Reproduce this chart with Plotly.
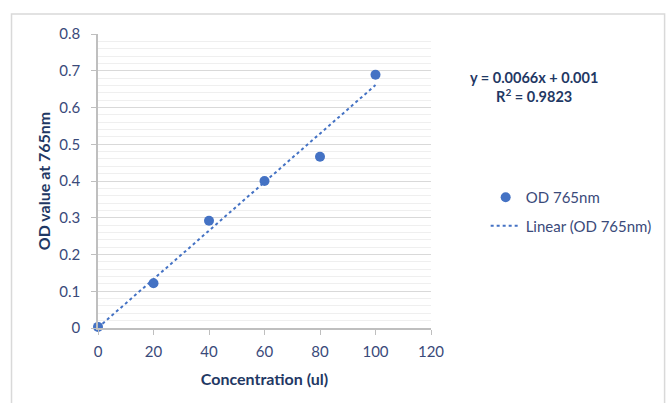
import plotly.graph_objects as go

conc = [0, 20, 40, 60, 80, 100]
od = [0.003, 0.122, 0.292, 0.400, 0.466, 0.689]
slope = 0.0066
intercept = 0.001
r2 = 0.9823
x_ticks = [0, 20, 40, 60, 80, 100, 120]
y_ticks = [0, 0.1, 0.2, 0.3, 0.4, 0.5, 0.6, 0.7, 0.8]

W, H = 669, 403
L, R, T, B = 98, 236, 34, 75
pw, ph = W - L - R, H - T - B

def px(x):
    return (x - L) / pw

def py(y):
    return (H - B - y) / ph

trend_x = [conc[0], conc[-1]]
trend_y = [slope * v + intercept for v in trend_x]

font = "Lato, 'Open Sans', sans-serif"
tick_col = "#3a4a7a"
title_col = "#1f3864"
blue = "#4472c4"

fig = go.Figure()
fig.add_trace(go.Scatter(x=conc, y=od, mode="markers", name="OD 765nm", legendgroup="a",
                         marker=dict(color=blue, size=10), cliponaxis=False))
fig.add_trace(go.Scatter(x=trend_x, y=trend_y, mode="lines", name="Linear (OD 765nm)", legendgroup="b",
                         line=dict(color=blue, width=2, dash="dot")))

fig.update_layout(
    width=W, height=H,
    margin=dict(l=L, r=R, t=T, b=B),
    paper_bgcolor="white", plot_bgcolor="white",
    font=dict(family=font, size=15, color=tick_col),
    showlegend=True,
    legend=dict(x=px(488), y=py(181), xanchor="left", yanchor="top",
                font=dict(size=15, color=tick_col), tracegroupgap=6,
                bgcolor="rgba(0,0,0,0)"),
    xaxis=dict(range=[0, 120], tickvals=x_ticks, showgrid=False, zeroline=False,
               showline=True, linecolor="#bfbfbf", linewidth=1.5,
               ticks="outside", ticklen=5, tickcolor="#bfbfbf", ticklabelstandoff=4,
               tickfont=dict(size=15, color=tick_col),
               title=dict(text="<b>Concentration (ul)</b>", font=dict(size=16, color=title_col), standoff=15)),
    yaxis=dict(range=[0, 0.8], tickvals=y_ticks, ticktext=[("%g" % v) for v in y_ticks],
               showgrid=True, gridcolor="#d9d9d9", gridwidth=1.2, zeroline=False,
               showline=True, linecolor="#bfbfbf", linewidth=1.5,
               ticks="outside", ticklen=5, tickcolor="#bfbfbf", ticklabelstandoff=8,
               tickfont=dict(size=15, color=tick_col),
               minor=dict(dtick=0.02, showgrid=True, gridcolor="#efefef", gridwidth=1),
               title=dict(text="<b>OD value at 765nm</b>", font=dict(size=16, color=title_col), standoff=5)),
)

fig.add_annotation(xref="paper", yref="paper", x=px(537), y=py(87),
                   xanchor="center", yanchor="middle",
                   text="<b>y = %.4fx + %.3f<br>R<sup>2</sup> = %.4f</b>" % (slope, intercept, r2),
                   showarrow=False, align="center",
                   font=dict(size=14.5, color=title_col, family=font))

fig.add_shape(type="rect", xref="paper", yref="paper",
              x0=px(11), x1=px(668), y0=py(14), y1=py(420),
              line=dict(color="#d9d9d9", width=1.5), layer="below")

fig.write_html("out.html", config={"displayModeBar": False},
               post_script="document.body.style.margin='0';document.body.style.overflow='hidden';")
